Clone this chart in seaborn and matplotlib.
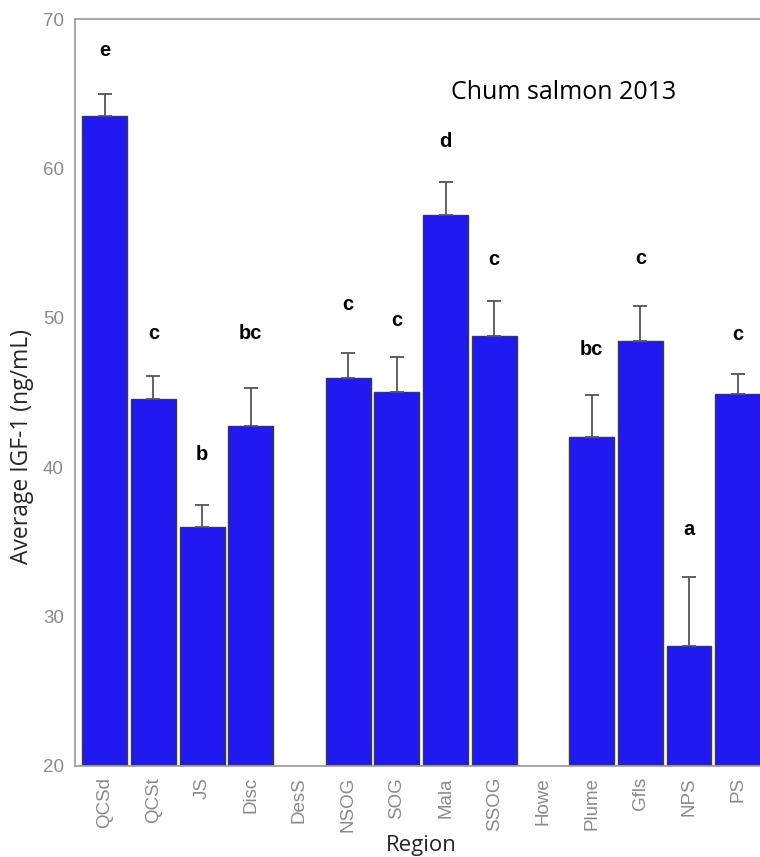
import matplotlib
matplotlib.use("Agg")
import matplotlib.pyplot as plt
import seaborn as sns
import numpy as np
import pandas as pd

regions = ["QCSd", "QCSt", "JS", "Disc", "DesS", "NSOG", "SOG", "Mala", "SSOG",
           "Howe", "Plume", "Gfls", "NPS", "PS"]
means = [63.5, 44.55, 36.0, 42.75, np.nan, 45.95, 45.05, 56.85, 48.8,
         np.nan, 42.0, 48.45, 28.0, 44.9]
upper = [65.0, 46.1, 37.5, 45.3, np.nan, 47.65, 47.38, 59.1, 51.15,
         np.nan, 44.8, 50.8, 32.65, 46.24]
letters = ["e", "c", "b", "bc", "", "c", "c", "d", "c", "", "bc", "c", "a", "c"]
letter_y = [67.86, 48.92, 40.88, 48.92, np.nan, 50.92, 49.85, 61.83, 53.87,
            np.nan, 47.91, 53.94, 35.86, 48.85]
yticks = [20, 30, 40, 50, 60, 70]

sns.set_theme(style="white")
plt.rcParams["font.family"] = ["Liberation Sans", "DejaVu Sans"]

df = pd.DataFrame({"Region": regions, "IGF": means})

fig = plt.figure(figsize=(7.6, 8.57), dpi=100)
ax = fig.add_axes([75 / 760, 1 - 766 / 857, 692 / 760, (766 - 19) / 857])

sns.barplot(data=df, x="Region", y="IGF", order=regions, color="#2019F0",
            saturation=1, width=0.92, edgecolor="#3a3a3a", linewidth=1.0,
            errorbar=None, ax=ax)

x = np.arange(len(regions))
m = np.array(means, dtype=float)
u = np.array(upper, dtype=float)
ax.errorbar(x, m, yerr=[np.zeros_like(m), u - m], fmt="none", ecolor="#555555",
            elinewidth=1.3, capsize=5, capthick=1.3, zorder=1)

for xi, ly, lab in zip(x, letter_y, letters):
    if lab:
        ax.text(xi, ly, lab, ha="center", va="center", fontsize=14.5,
                fontweight="bold", color="black")

ax.set_xlim(-0.61, 13.6)
ax.set_ylim(20, 70)
ax.set_yticks(yticks)
ax.set_yticklabels([str(t) for t in yticks], fontsize=13.5, color="#8a8a8a")
ax.set_xticks(x)
ax.set_xticklabels(regions, rotation=90, fontsize=13.5, color="#8a8a8a")
ax.tick_params(axis="y", length=0, pad=8)
ax.tick_params(axis="x", length=0, pad=8)

for s in ["left", "top", "bottom"]:
    ax.spines[s].set_color("#a0a0a0")
    ax.spines[s].set_linewidth(1.3)
ax.spines["right"].set_visible(False)

ax.set_xlabel("Region", fontsize=16, family=["Open Sans", "DejaVu Sans"], labelpad=2)
ax.set_ylabel("Average IGF-1 (ng/mL)", fontsize=16.5, family=["Open Sans", "DejaVu Sans"])
ax.yaxis.label.set_va("center")
ax.yaxis.set_label_coords(-0.0766, 0.428)
ax.text(9.42, 65.1, "Chum salmon 2013", ha="center", va="center", fontsize=18,
        family=["Open Sans", "DejaVu Sans"], color="black")

fig.savefig("out.png", dpi=100)
